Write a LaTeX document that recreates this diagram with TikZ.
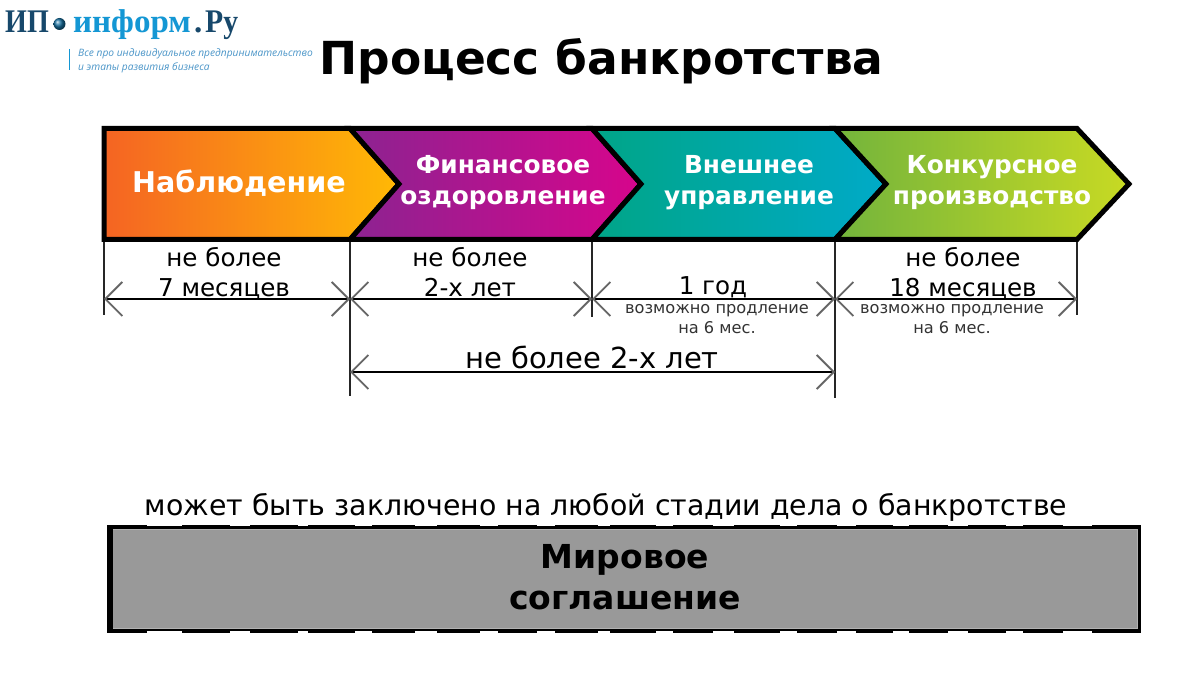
\documentclass[tikz,border=0pt]{standalone}
\usepackage{fontspec}
\setmainfont{DejaVu Sans}
\newfontfamily\logoserif{Liberation Serif}
\newfontfamily\logoital{Open Sans}
\usetikzlibrary{arrows.meta,shadings}
\definecolor{logodark}{HTML}{17486B}
\definecolor{logolight}{HTML}{1497D4}
\definecolor{logosub}{HTML}{4A95C8}
\definecolor{bargray}{HTML}{999999}
\tikzset{
  x=1pt,y=-1pt,
  chev/.style={draw=black,line width=5pt,line join=miter,miter limit=4},
  steptext/.style={text=white,font=\bfseries\fontsize{24.8}{31}\selectfont,align=center,inner sep=0pt},
  durtext/.style={text=black,font=\fontsize{24.6}{30}\selectfont,align=center,inner sep=0pt},
  smalltext/.style={text=black!80,font=\fontsize{16.2}{20}\selectfont,align=center,inner sep=0pt},
  extline/.style={draw=black!85,line width=2pt},
  dimline/.style={draw=black,line width=1.7pt,
    {Straight Barb[length=17pt,width=34pt,line width=1.8pt,color=black!60]}-{Straight Barb[length=17pt,width=34pt,line width=1.8pt,color=black!60]}},
  logotext/.style={anchor=base west,inner sep=0pt,font=\logoserif\bfseries\fontsize{33}{33}\selectfont},
  logosubtext/.style={anchor=base west,inner sep=0pt,text=logosub,font=\logoital\itshape\fontsize{10.2}{13}\selectfont},
}
\begin{document}
\begin{tikzpicture}
\useasboundingbox (0,0) rectangle (1200,700);
\fill[white] (0,0) rectangle (1200,700);

% logo
\node[logotext,text=logodark] (lg1) at (5,33) {\scalebox{0.85}[1]{ИП}};
\shade[ball color=logodark!50!logolight] (59.5,24) circle (6);
\node[logotext,text=logolight] (lg2) at (73,33) {информ};
\node[logotext,text=logodark] (lg3) at (194,33) {.};
\node[logotext,text=logodark] (lg4) at (205,33) {\scalebox{0.9}[1]{Ру}};
\draw[logolight,line width=0.8pt] (69,49) -- (69,70);
\node[logosubtext] (lg5) at (78,57) {Все про индивидуальное предпринимательство};
\node[logosubtext] (lg6) at (78,71) {и этапы развития бизнеса};

% title
\node[anchor=base,inner sep=0pt,font=\bfseries\fontsize{45.5}{50}\selectfont] (title) at (601.5,75) {Процесс банкротства};

% extension lines
\coordinate (t1) at (104,239); \coordinate (b1) at (104,315);
\coordinate (t2) at (350,239); \coordinate (b2) at (350,396);
\coordinate (t3) at (592,239); \coordinate (b3) at (592,317);
\coordinate (t4) at (835,239); \coordinate (b4) at (835,398);
\coordinate (t5) at (1077,239); \coordinate (b5) at (1077,315);
\foreach \i in {1,...,5} \draw[extline] (t\i) -- (b\i);

% chevrons
\path[chev,left color={rgb,255:red,245;green,100;blue,35},right color={rgb,255:red,255;green,185;blue,5}]
  (104,128.5) -- (350,128.5) -- (399,184) -- (350,239.5) -- (104,239.5) -- cycle;
\path[chev,left color={rgb,255:red,140;green,35;blue,145},right color={rgb,255:red,215;green,5;blue,140}]
  (350,128.5) -- (592,128.5) -- (641,184) -- (592,239.5) -- (350,239.5) -- (399,184) -- cycle;
\path[chev,left color={rgb,255:red,0;green,165;blue,135},right color={rgb,255:red,0;green,170;blue,200}]
  (592,128.5) -- (835,128.5) -- (886,184) -- (835,239.5) -- (592,239.5) -- (641,184) -- cycle;
\path[chev,left color={rgb,255:red,115;green,180;blue,60},right color={rgb,255:red,200;green,218;blue,35}]
  (835,128.5) -- (1077,128.5) -- (1129,184) -- (1077,239.5) -- (835,239.5) -- (886,184) -- cycle;

\node[steptext,font=\bfseries\fontsize{28.6}{31}\selectfont] (s1) at (239,183) {Наблюдение};
\node[steptext] (s2) at (503,183) {Финансовое\\оздоровление};
\node[steptext] (s3) at (749,183) {Внешнее\\управление};
\node[steptext] (s4) at (992,183) {Конкурсное\\производство};

% dimension lines
\coordinate (d1) at (104,299); \coordinate (d2) at (350,299);
\coordinate (d3) at (592,299); \coordinate (d4) at (835,299);
\coordinate (d5) at (1077,299);
\coordinate (e2) at (350,372); \coordinate (e4) at (835,372);
\draw[dimline] (d1) -- (d2);
\draw[dimline] (d2) -- (d3);
\draw[dimline] (d3) -- (d4);
\draw[dimline] (d4) -- (d5);
\draw[dimline] (e2) -- (e4);

% duration labels
\node[durtext] (l1) at (224,274) {не более\\7 месяцев};
\node[durtext] (l2) at (470,272) {не более\\2-х лет};
\node[durtext] (l3) at (713,287.5) {1 год};
\node[durtext] (l4) at (963,274) {не более\\18 месяцев};
\node[smalltext] (n3) at (717,319) {возможно продление\\на 6 мес.};
\node[smalltext] (n4) at (952,319) {возможно продление\\на 6 мес.};
\node[durtext,font=\fontsize{29}{30}\selectfont] (l5) at (592,357) {не более 2-х лет};

% settlement
\node[anchor=base,inner sep=0pt,font=\fontsize{28.4}{30}\selectfont] (cap) at (606,515) {может быть заключено на любой стадии дела о банкротстве};
\fill[black] (107,524.5) rectangle (1141,633);
\foreach \a/\b in {147/182,230/250,298/308,355/372,415/437,480/498,537/555,598/610,656/673,713/734,780/797,837/856,893/909,948/968,1006/1023,1063/1092}{
  \fill[white] (\a,524) rectangle (\b,526.2);
  \fill[white] (\a,631) rectangle (\b,633.5);
}
\fill[bargray] (113,528.5) rectangle (1137.5,628.5);
\draw[black!30,line width=0.8pt] (113.4,528.9) -- (1137,528.9) -- (1137,628) -- (113.4,628);
\node[anchor=center,inner sep=0pt,align=center,font=\bfseries\fontsize{33}{41}\selectfont] (mir) at (625,577) {Мировое\\соглашение};
\end{tikzpicture}
\end{document}
